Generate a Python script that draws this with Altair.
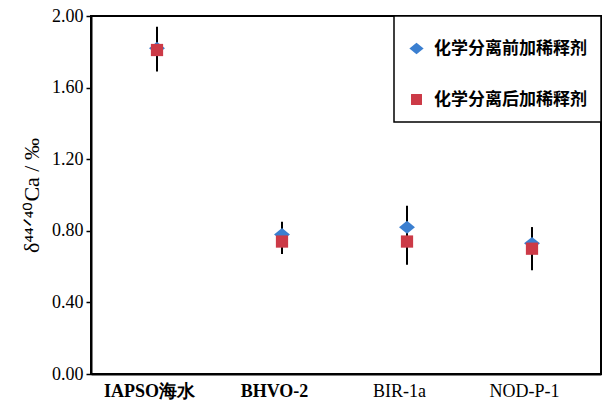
import altair as alt
import pandas as pd

# Reference materials on the x axis
samples = ["IAPSO海水", "BHVO-2", "BIR-1a", "NOD-P-1"]
series_names = ["化学分离前加稀释剂", "化学分离后加稀释剂"]

# δ44/40Ca (‰) and 2SD for spike added before chemical separation
before_mean = [1.82, 0.78, 0.82, 0.73]
before_err = [0.12, 0.07, 0.12, 0.09]
# δ44/40Ca (‰) and 2SD for spike added after chemical separation
after_mean = [1.81, 0.74, 0.74, 0.70]
after_err = [0.12, 0.07, 0.13, 0.12]

rows = []
for i, s in enumerate(samples):
    for name, m, e in ((series_names[0], before_mean, before_err),
                       (series_names[1], after_mean, after_err)):
        rows.append({"idx": i, "sample": s, "series": name,
                     "value": m[i], "lo": m[i] - e[i], "hi": m[i] + e[i]})
df = pd.DataFrame(rows)

label_expr = "[" + ",".join(f"'{s}'" for s in samples) + "][datum.value]"

x_scale = alt.Scale(domain=[-0.528, 3.552], nice=False, zero=False)
y_scale = alt.Scale(domain=[0, 2.0], nice=False)

x_enc = alt.X("idx:Q", scale=x_scale, axis=alt.Axis(
    values=[0, 1, 2, 3], labelExpr=label_expr, title=None, ticks=False,
    grid=False, labelFontSize=18, labelFont="Liberation Serif",
    labelColor="black", labelPadding=8, labelOffset=-8,
    labelFontWeight=alt.expr("datum.value < 1.5 ? 'bold' : 'normal'"),
    domainColor="black", domainWidth=2))

y_axis = alt.Axis(values=[0, 0.4, 0.8, 1.2, 1.6, 2.0], format=".2f",
                  title="δ⁴⁴ᐟ⁴⁰Ca / ‰", titleFont="Liberation Serif",
                  titleFontSize=22, titleFontWeight="normal", titleColor="black",
                  titlePadding=8, grid=False, labelFontSize=18,
                  labelFont="Liberation Serif", labelColor="black",
                  tickColor="black", tickSize=5, tickWidth=1.5, labelPadding=3,
                  domainColor="black", domainWidth=2)

bars = alt.Chart(df).mark_rule(color="black", strokeWidth=2).encode(
    x=x_enc,
    y=alt.Y("lo:Q", scale=y_scale, axis=y_axis),
    y2="hi:Q",
)

# slightly wide diamond for the first series, square for the second
diamond = "M-1.3,0L0,-1.05L1.3,0L0,1.05Z"
points = alt.Chart(df).mark_point(filled=True, opacity=1, size=150).encode(
    x=alt.X("idx:Q", scale=x_scale),
    y=alt.Y("value:Q", scale=y_scale),
    color=alt.Color("series:N", sort=series_names,
                    scale=alt.Scale(domain=series_names, range=["#3b7fd0", "#cc3a47"]),
                    legend=alt.Legend(title=" ", titleFontSize=6, titlePadding=4,
                                      orient="top-right", offset=0,
                                      labelFont="Noto Sans CJK SC", labelFontSize=17,
                                      labelFontWeight="bold", labelColor="black",
                                      symbolSize=120, symbolStrokeWidth=0,
                                      rowPadding=33, padding=14, labelOffset=9,
                                      strokeColor="black", fillColor="white")),
    shape=alt.Shape("series:N", sort=series_names,
                    scale=alt.Scale(domain=series_names, range=[diamond, "square"])),
    order=alt.Order("series:N", sort="ascending"),
)

chart = alt.layer(bars, points).properties(
    width=510, height=358,
    autosize=alt.AutoSizeParams(type="none"),
    padding={"left": 91, "top": 16, "right": 6, "bottom": 33},
    background="white",
).configure_view(stroke="black", strokeWidth=2).configure_legend(
    strokeWidth=1.5
)

chart.save("out.html", embed_options={"renderer": "svg", "actions": False})
